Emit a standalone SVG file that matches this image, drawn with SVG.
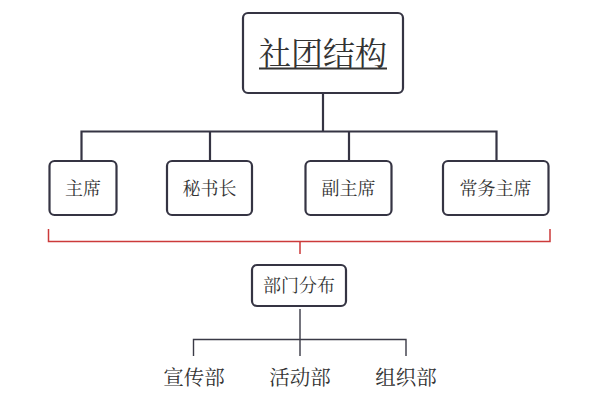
<svg xmlns="http://www.w3.org/2000/svg" width="610" height="414" viewBox="0 0 610 414">
<style>
.box{fill:#fff;stroke:#353443;stroke-width:2.2}
.t{font-family:"Noto Serif CJK SC","Noto Sans CJK SC",serif;fill:#333;text-anchor:middle}
.c{fill:none;stroke:#353443;stroke-width:2.2}
.c2{fill:none;stroke:#3a3a46;stroke-width:1.4}
.r{fill:none;stroke:#cc3a3a;stroke-width:1.5}
</style>
<rect width="610" height="414" fill="#fff"/>
<g id="connectors">
<path class="c" d="M323,93V131.5M81.5,161V131.5H496.5V161M210,131.5V161M349,131.5V161"/>
<path class="r" d="M48.5,229V241.5H550V229M300,241.5V254"/>
<path class="c2" d="M300,309V356M193.5,356V339.5H406V356"/>
</g>
<g id="root">
<rect class="box" x="243" y="13" width="160" height="80" rx="5"/>
<text class="t" x="323" y="65" font-size="32">社团结构</text>
<line x1="259" y1="68.5" x2="387" y2="68.5" stroke="#333" stroke-width="2"/>
</g>
<g id="n1"><rect class="box" x="49.5" y="161" width="67" height="54" rx="5"/><text class="t" x="83" y="195" font-size="18">主席</text></g>
<g id="n2"><rect class="box" x="167" y="161" width="85" height="54" rx="5"/><text class="t" x="209.5" y="195" font-size="18">秘书长</text></g>
<g id="n3"><rect class="box" x="305.5" y="161" width="86" height="54" rx="5"/><text class="t" x="348.5" y="195" font-size="18">副主席</text></g>
<g id="n4"><rect class="box" x="443" y="161" width="105.5" height="54" rx="5"/><text class="t" x="495.5" y="195" font-size="18">常务主席</text></g>
<g id="dept"><rect class="box" x="252" y="265" width="94" height="41" rx="5"/><text class="t" x="299" y="292" font-size="18">部门分布</text></g>
<g id="d1"><text class="t" x="194" y="385" font-size="20.5">宣传部</text></g>
<g id="d2"><text class="t" x="300" y="385" font-size="20.5">活动部</text></g>
<g id="d3"><text class="t" x="406" y="385" font-size="20.5">组织部</text></g>
</svg>
